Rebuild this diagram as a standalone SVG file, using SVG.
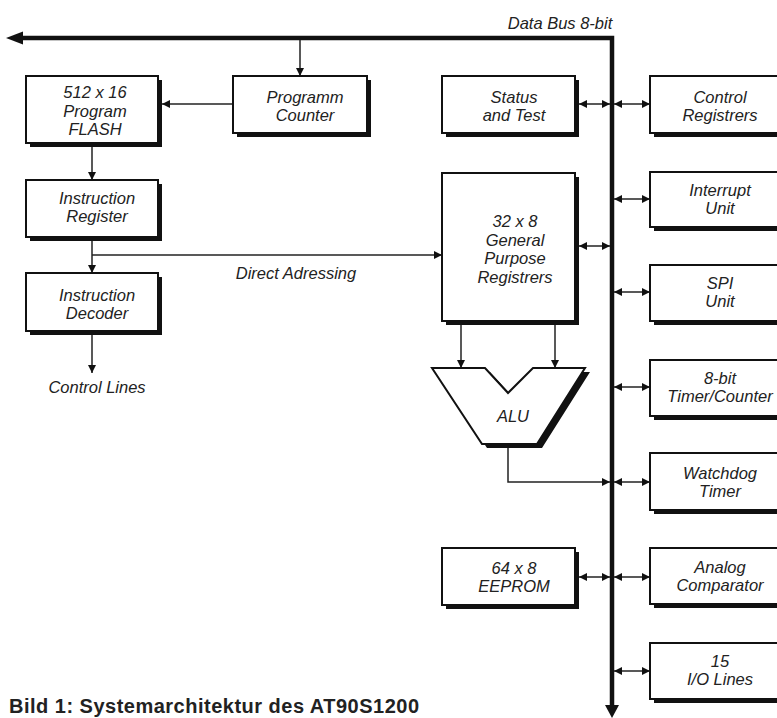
<svg xmlns="http://www.w3.org/2000/svg" width="777" height="718" viewBox="0 0 777 718">
<defs>
<style>
.sh{fill:#111;}
.bx{fill:#fff;stroke:#111;stroke-width:2;}
.t{font-family:"Liberation Sans",Arial,sans-serif;font-style:italic;font-size:16.5px;fill:#222;text-anchor:middle;}
.ln{fill:none;stroke:#222;stroke-width:1.5;}
.bus{fill:none;stroke:#111;stroke-width:4.5;}
.cap{font-family:"Liberation Sans",Arial,sans-serif;font-weight:bold;font-size:20px;fill:#222;}
</style>
<marker id="ah" viewBox="0 0 8 8" refX="8" refY="4" markerWidth="8" markerHeight="8" markerUnits="userSpaceOnUse" orient="auto-start-reverse">
<path d="M0,0 L8,4 L0,8 z" fill="#111"/>
</marker>
</defs>
<rect width="777" height="718" fill="#fff"/>

<g id="connectors">
<path class="bus" d="M20,38 H612 V706"/>
<path d="M6,38 L23,31.5 L23,44.5 z" fill="#111"/>
<path d="M612,718 L605,705 L619,705 z" fill="#111"/>
<line class="ln" x1="300" y1="40" x2="300" y2="76" marker-end="url(#ah)"/>
<line class="ln" x1="233" y1="104" x2="162" y2="104" marker-end="url(#ah)"/>
<line class="ln" x1="92" y1="147" x2="92" y2="180" marker-end="url(#ah)"/>
<line class="ln" x1="92" y1="241" x2="92" y2="273" marker-end="url(#ah)"/>
<line class="ln" x1="92" y1="255" x2="442" y2="255" marker-end="url(#ah)"/>
<line class="ln" x1="92" y1="335" x2="92" y2="373" marker-end="url(#ah)"/>
<line class="ln" x1="461" y1="325" x2="461" y2="368" marker-end="url(#ah)"/>
<line class="ln" x1="555" y1="325" x2="555" y2="368" marker-end="url(#ah)"/>
<polyline class="ln" points="508,447 508,482 610,482" marker-end="url(#ah)"/>
<line class="ln" x1="579" y1="104" x2="610" y2="104" marker-start="url(#ah)" marker-end="url(#ah)"/>
<line class="ln" x1="579" y1="246" x2="610" y2="246" marker-start="url(#ah)" marker-end="url(#ah)"/>
<line class="ln" x1="579" y1="577" x2="610" y2="577" marker-start="url(#ah)" marker-end="url(#ah)"/>
<line class="ln" x1="614" y1="104" x2="650" y2="104" marker-start="url(#ah)" marker-end="url(#ah)"/>
<line class="ln" x1="614" y1="199" x2="650" y2="199" marker-start="url(#ah)" marker-end="url(#ah)"/>
<line class="ln" x1="614" y1="292" x2="650" y2="292" marker-start="url(#ah)" marker-end="url(#ah)"/>
<line class="ln" x1="614" y1="387" x2="650" y2="387" marker-start="url(#ah)" marker-end="url(#ah)"/>
<line class="ln" x1="614" y1="482" x2="650" y2="482" marker-start="url(#ah)" marker-end="url(#ah)"/>
<line class="ln" x1="614" y1="577" x2="650" y2="577" marker-start="url(#ah)" marker-end="url(#ah)"/>
<line class="ln" x1="614" y1="671" x2="650" y2="671" marker-start="url(#ah)" marker-end="url(#ah)"/>
</g>

<text class="t" x="560" y="29">Data Bus 8-bit</text>
<text class="t" x="296" y="279">Direct Adressing</text>
<text class="t" x="97" y="393">Control Lines</text>

<g id="flash">
<rect class="sh" x="30" y="80" width="132" height="67"/>
<rect class="bx" x="26" y="76" width="132" height="67"/>
<text class="t" x="95" y="98">512 x 16</text>
<text class="t" x="95" y="116.5">Program</text>
<text class="t" x="95" y="135">FLASH</text>
</g>
<g id="pc">
<rect class="sh" x="237" y="80" width="134" height="57"/>
<rect class="bx" x="233" y="76" width="134" height="57"/>
<text class="t" x="305" y="103">Programm</text>
<text class="t" x="305" y="121">Counter</text>
</g>
<g id="ir">
<rect class="sh" x="30" y="184" width="132" height="57"/>
<rect class="bx" x="26" y="180" width="132" height="57"/>
<text class="t" x="97" y="204">Instruction</text>
<text class="t" x="97" y="222">Register</text>
</g>
<g id="decoder">
<rect class="sh" x="30" y="277" width="132" height="58"/>
<rect class="bx" x="26" y="273" width="132" height="58"/>
<text class="t" x="97" y="301">Instruction</text>
<text class="t" x="97" y="319">Decoder</text>
</g>
<g id="status">
<rect class="sh" x="446" y="80" width="133" height="57"/>
<rect class="bx" x="442" y="76" width="133" height="57"/>
<text class="t" x="514" y="103">Status</text>
<text class="t" x="514" y="121">and Test</text>
</g>
<g id="gpr">
<rect class="sh" x="446" y="177" width="133" height="148"/>
<rect class="bx" x="442" y="173" width="133" height="148"/>
<text class="t" x="515" y="227">32 x 8</text>
<text class="t" x="515" y="245.5">General</text>
<text class="t" x="515" y="264">Purpose</text>
<text class="t" x="515" y="282.5">Registrers</text>
</g>
<g id="alu">
<polygon class="sh" points="437,372 490,372 513,397 538,372 590,372 542,448 487,448"/>
<polygon class="bx" points="432,368 485,368 508,393 533,368 585,368 537,444 482,444"/>
<text class="t" x="513" y="422">ALU</text>
</g>
<g id="eeprom">
<rect class="sh" x="446" y="552" width="133" height="57"/>
<rect class="bx" x="442" y="548" width="133" height="57"/>
<text class="t" x="514" y="574">64 x 8</text>
<text class="t" x="514" y="592">EEPROM</text>
</g>
<g id="control">
<rect class="sh" x="654" y="80" width="150" height="57"/>
<rect class="bx" x="650" y="76" width="150" height="57"/>
<text class="t" x="720" y="103">Control</text>
<text class="t" x="720" y="121">Registrers</text>
</g>
<g id="interrupt">
<rect class="sh" x="654" y="176" width="150" height="55"/>
<rect class="bx" x="650" y="172" width="150" height="55"/>
<text class="t" x="720" y="196">Interrupt</text>
<text class="t" x="720" y="214">Unit</text>
</g>
<g id="spi">
<rect class="sh" x="654" y="269" width="150" height="56"/>
<rect class="bx" x="650" y="265" width="150" height="56"/>
<text class="t" x="720" y="289">SPI</text>
<text class="t" x="720" y="307">Unit</text>
</g>
<g id="timer">
<rect class="sh" x="654" y="364" width="150" height="56"/>
<rect class="bx" x="650" y="360" width="150" height="56"/>
<text class="t" x="720" y="384">8-bit</text>
<text class="t" x="720" y="402">Timer/Counter</text>
</g>
<g id="watchdog">
<rect class="sh" x="654" y="457" width="150" height="57"/>
<rect class="bx" x="650" y="453" width="150" height="57"/>
<text class="t" x="720" y="479">Watchdog</text>
<text class="t" x="720" y="497">Timer</text>
</g>
<g id="analog">
<rect class="sh" x="654" y="552" width="150" height="56"/>
<rect class="bx" x="650" y="548" width="150" height="56"/>
<text class="t" x="720" y="573">Analog</text>
<text class="t" x="720" y="591">Comparator</text>
</g>
<g id="io">
<rect class="sh" x="654" y="647" width="150" height="56"/>
<rect class="bx" x="650" y="643" width="150" height="56"/>
<text class="t" x="720" y="667">15</text>
<text class="t" x="720" y="685">I/O Lines</text>
</g>

<text class="cap" x="9" y="713" textLength="410" lengthAdjust="spacing">Bild 1: Systemarchitektur des AT90S1200</text>
</svg>
